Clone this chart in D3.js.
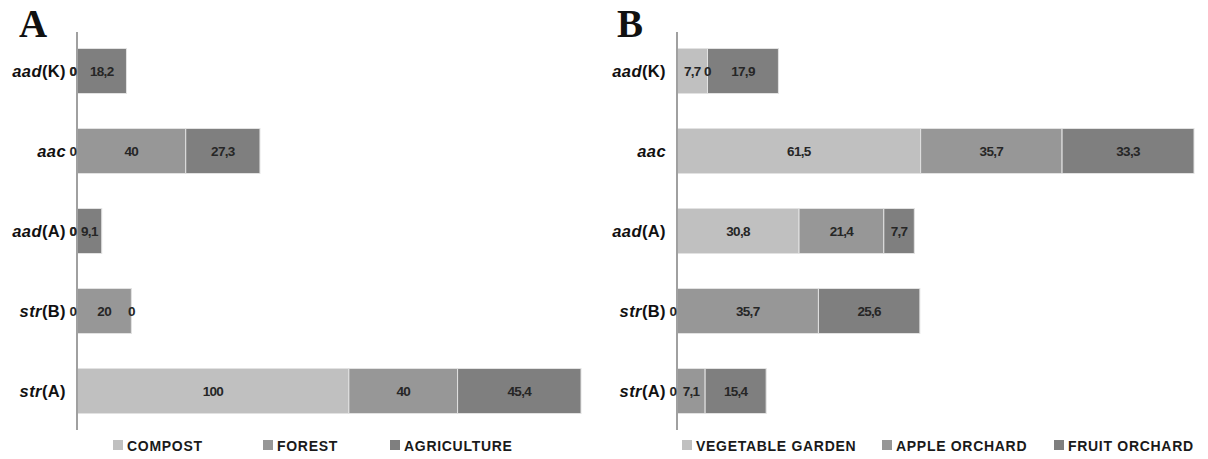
<!DOCTYPE html>
<html>
<head>
<meta charset="utf-8">
<script src="https://cdn.jsdelivr.net/npm/d3@7"></script>
<style>
  body { margin: 0; background: #fff; }
  text { font-family: "Liberation Sans", Arial, sans-serif; }
</style>
</head>
<body>
<svg id="chart" width="1208" height="459"></svg>
<script>
const categories = ["aad(K)", "aac", "aad(A)", "str(B)", "str(A)"];

// panel A
const seriesA = ["COMPOST", "FOREST", "AGRICULTURE"];
const compost = [0, 0, 0, 0, 100];
const forest = [0, 40, 0, 20, 40];
const agriculture = [18.2, 27.3, 9.1, 0, 45.4];

// panel B
const seriesB = ["VEGETABLE GARDEN", "APPLE ORCHARD", "FRUIT ORCHARD"];
const vegetableGarden = [7.7, 61.5, 30.8, 0, 0];
const appleOrchard = [0, 35.7, 21.4, 35.7, 7.1];
const fruitOrchard = [17.9, 33.3, 7.7, 25.6, 15.4];

const greys = ["#c0c0c0", "#979797", "#7f7f7f"];

const svg = d3.select("#chart");

function drawPanel(opts) {
    const rows = categories.map((c, i) => {
        const r = { cat: c };
        opts.series.forEach((s, j) => r[s] = opts.values[j][i]);
        return r;
    });
    const stacked = d3.stack().keys(opts.series)(rows);
    const maxTotal = d3.max(stacked[stacked.length - 1], d => d[1]);

    const x = d3.scaleLinear().domain([0, maxTotal]).range([opts.x0, opts.x1]);
    const y = d3.scaleBand().domain(categories).range([31, 431]).paddingInner(0.4375).paddingOuter(0.21875);
    const color = d3.scaleOrdinal().domain(opts.series).range(greys);

    const g = svg.append("g");

    // panel letter
    g.append("text")
        .attr("x", opts.letterX)
        .attr("y", 37)
        .style("font-family", "'Liberation Serif', 'Times New Roman', serif")
        .style("font-weight", "bold")
        .style("font-size", "39px")
        .attr("fill", "#111")
        .text(opts.letter);

    const layers = g.selectAll(".layer")
        .data(stacked)
        .enter()
        .append("g")
        .attr("fill", d => color(d.key));

    layers.selectAll("rect")
        .data(d => d)
        .enter()
        .append("rect")
        .attr("x", d => x(d[0]))
        .attr("y", d => y(d.data.cat))
        .attr("width", d => x(d[1]) - x(d[0]))
        .attr("height", y.bandwidth())
        .attr("stroke", "#e2e2e2")
        .attr("stroke-width", 1);

    // axis line
    g.append("line")
        .attr("x1", x(0)).attr("x2", x(0))
        .attr("y1", 32).attr("y2", 430)
        .attr("stroke", "#a0a0a0")
        .attr("stroke-width", 2);

    // value labels (on top of axis line)
    const labels = g.append("g");
    stacked.forEach(layer => {
        labels.selectAll(null)
            .data(layer)
            .enter()
            .append("text")
            .attr("x", d => {
                const mid = (x(d[0]) + x(d[1])) / 2;
                return d[1] - d[0] === 0 && d[0] === 0 ? mid - 4 : mid;
            })
            .attr("y", d => y(d.data.cat) + y.bandwidth() / 2 + 5)
            .attr("text-anchor", "middle")
            .style("font-weight", "bold")
            .style("font-size", "13.5px")
            .style("letter-spacing", "-0.7px")
            .attr("fill", "#262626")
            .text(d => String(+(d[1] - d[0]).toFixed(1)).replace(".", ","));
    });

    // category labels, gene part italic
    const lab = g.selectAll(".cat")
        .data(categories)
        .enter()
        .append("text")
        .attr("class", "cat")
        .attr("x", x(0) - 11)
        .attr("y", d => y(d) + y.bandwidth() / 2 + 6)
        .attr("text-anchor", "end")
        .style("font-weight", "bold")
        .style("font-size", "16.5px")
        .style("letter-spacing", "0.4px")
        .attr("fill", "#111");
    lab.append("tspan")
        .style("font-style", "italic")
        .text(d => d.split("(")[0]);
    lab.append("tspan")
        .text(d => d.includes("(") ? "(" + d.split("(")[1] : "");

    // legend
    const leg = g.selectAll(".leg")
        .data(opts.series)
        .enter()
        .append("g")
        .attr("transform", (d, i) => `translate(${opts.legendX[i]}, 440)`);
    leg.append("rect")
        .attr("width", 10).attr("height", 10)
        .attr("fill", d => color(d));
    leg.append("text")
        .attr("x", 14)
        .attr("y", 11)
        .style("font-weight", "bold")
        .style("font-size", "14px")
        .style("letter-spacing", "0.7px")
        .attr("fill", "#1a1a1a")
        .text(d => d);
}

drawPanel({
    letter: "A", letterX: 19,
    series: seriesA, values: [compost, forest, agriculture],
    x0: 77, x1: 581,
    legendX: [113, 263, 390]
});

drawPanel({
    letter: "B", letterX: 617,
    series: seriesB, values: [vegetableGarden, appleOrchard, fruitOrchard],
    x0: 677, x1: 1194,
    legendX: [682, 882, 1054]
});
</script>
</body>
</html>
